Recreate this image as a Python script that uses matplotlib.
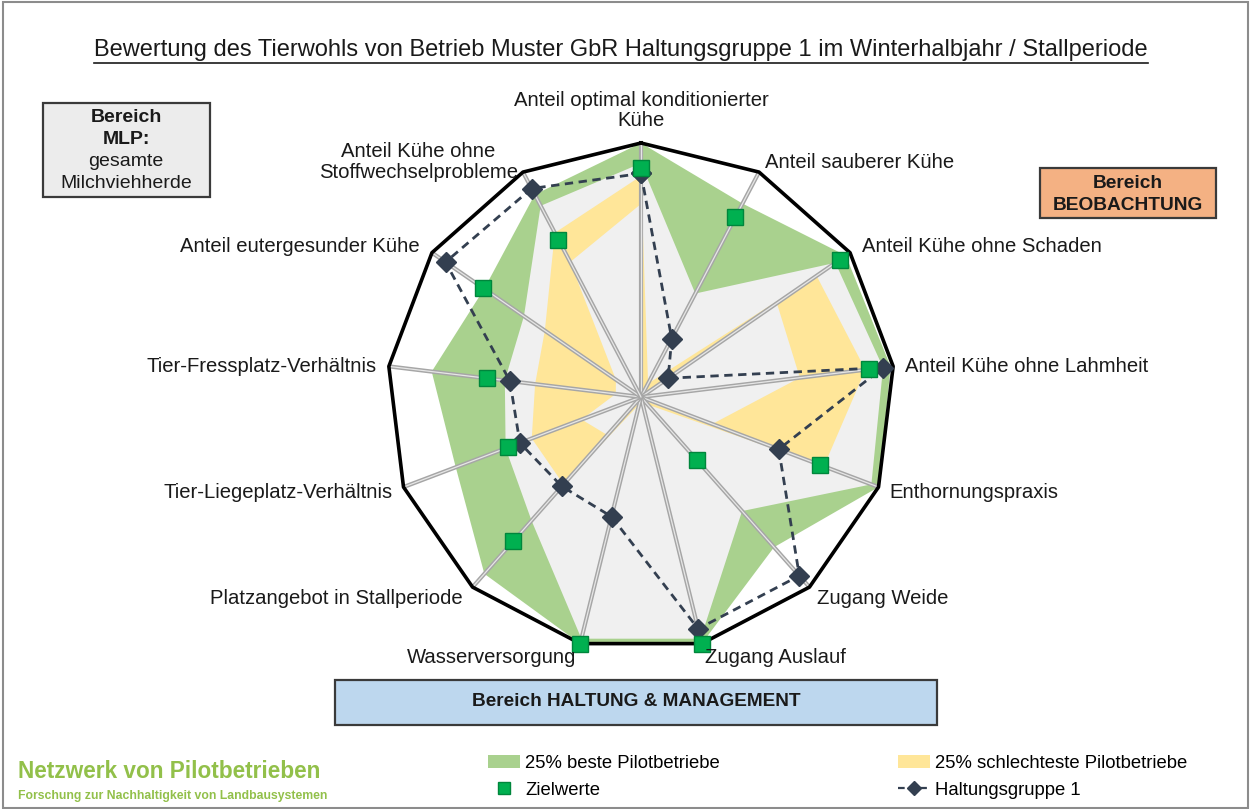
import numpy as np
import matplotlib.pyplot as plt
from matplotlib.lines import Line2D
from matplotlib.patches import Patch, Rectangle

plt.rcParams['font.family'] = ['Liberation Sans', 'DejaVu Sans']

# Kategorien im Uhrzeigersinn, beginnend oben
kategorien = [
    'Anteil optimal konditionierter\nKühe',
    'Anteil sauberer Kühe',
    'Anteil Kühe ohne Schaden',
    'Anteil Kühe ohne Lahmheit',
    'Enthornungspraxis',
    'Zugang Weide',
    'Zugang Auslauf',
    'Wasserversorgung',
    'Platzangebot in Stallperiode',
    'Tier-Liegeplatz-Verhältnis',
    'Tier-Fressplatz-Verhältnis',
    'Anteil eutergesunder Kühe',
    'Anteil Kühe ohne\nStoffwechselprobleme',
]

# Werte (0-100)
beste_max     = [100, 86, 98, 99, 100, 79, 100, 100, 93, 78, 83, 75, 90]
beste_p75     = [92, 46, 93, 96, 97, 60, 98, 98, 65, 57, 54, 56, 85]
schlecht_p25  = [87, 6, 84, 89, 77, 4, 3, 3, 46, 46, 42, 46, 73]
schlecht_min  = [76, 1, 65, 63, 30, 2, 2, 2, 20, 25, 10, 12, 60]
zielwerte     = [90, 80, 95, 90.5, 75.5, 33, 100, 100, 76, 56, 61, 75.5, 70]
haltung1      = [88, 26, 13, 96, 58, 94, 94, 48.5, 47, 51, 52, 93.5, 92.7]
rahmen        = [100] * 13

n = len(kategorien)
winkel = np.linspace(0, 2 * np.pi, n, endpoint=False)


def ring(werte):
    return np.append(winkel, winkel[0]), np.append(werte, werte[0])


W, H = 1250, 809
fig = plt.figure(figsize=(W / 100, H / 100), dpi=100)

# Polarachse: Zentrum (641, 397) px, Radius 254 px
cx, cy, R = 641, 397, 254
ax = fig.add_axes([(cx - R) / W, (H - cy - R) / H, 2 * R / W, 2 * R / H], projection='polar')
ax.set_theta_zero_location('N')
ax.set_theta_direction(-1)
ax.set_ylim(0, 100)
ax.axis('off')

# Flächen (Schichtung wie in Excel)
ax.fill(*ring(beste_max), color='#a9d18e', lw=0, zorder=1)
ax.fill(*ring(beste_p75), color='#f0f0f0', lw=0, zorder=2)
ax.fill(*ring(schlecht_p25), color='#ffe699', lw=0, zorder=3)
ax.fill(*ring(schlecht_min), color='#f0f0f0', lw=0, zorder=4)

# Speichen
for w in winkel:
    ax.plot([w, w], [0, 100], color='#a6a6a6', lw=3, zorder=5, solid_capstyle='butt')
    ax.plot([w, w], [0, 100], color='#e6e6e6', lw=0.9, zorder=5, solid_capstyle='butt')

# Außenrahmen
ax.plot(*ring(rahmen), color='black', lw=2.6, zorder=6, clip_on=False)

# Haltungsgruppe 1
ax.plot(*ring(haltung1), color='#333f50', lw=2, ls=(0, (3, 2)), marker='D', ms=10,
        mfc='#333f50', mec='#333f50', zorder=7, clip_on=False)

# Zielwerte
ax.plot(winkel, zielwerte, ls='none', marker='s', ms=11, mfc='#00b050', mec='#00863c',
        mew=1, zorder=8, clip_on=False)

# Beschriftung der Achsen
versatz = [(0, 13, 'center', 'bottom'), (6, 10, 'left', 'center'), (12, 6, 'left', 'center'),
           (12, 0, 'left', 'center'), (11, -5, 'left', 'center'), (8, -11, 'left', 'center'),
           (3, -14, 'left', 'center'), (-4, -14, 'right', 'center'), (-10, -11, 'right', 'center'),
           (-11, -5, 'right', 'center'), (-12, 0, 'right', 'center'), (-12, 6, 'right', 'center'),
           (-5, 10, 'right', 'center')]
for w, lab, (dx, dy, ha, va) in zip(winkel, kategorien, versatz):
    ax.annotate(lab, xy=(w, 100), xytext=(dx, dy), textcoords='offset pixels',
                ha=ha, va=va, multialignment='center', fontsize=14.6, color='#1a1a1a',
                linespacing=1.1, annotation_clip=False, zorder=9)


def px(x, y):
    return x / W, 1 - y / H


# Rahmen um die ganze Grafik
fig.patches.append(Rectangle((0.002, 0.001), 0.996, 0.996, transform=fig.transFigure,
                             fill=False, ec='#8c8c8c', lw=1.5))

# Titel mit Unterstreichung
titel = fig.text(*px(621, 50), 'Bewertung des Tierwohls von Betrieb Muster GbR Haltungsgruppe 1 '
                 'im Winterhalbjahr / Stallperiode', ha='center', va='center', fontsize=17,
                 color='#1a1a1a')


# Bereichs-Boxen
def box(x0, y0, x1, y1, farbe):
    fig.patches.append(Rectangle(px(x0, y1), (x1 - x0) / W, (y1 - y0) / H,
                                 transform=fig.transFigure, fc=farbe, ec='#3a3a3a', lw=1.6))


box(43, 103, 210, 197, '#ececec')
for yy, txt, fw in [(117, 'Bereich', 'bold'), (139, 'MLP:', 'bold'),
                    (162, 'gesamte', 'normal'), (184, 'Milchviehherde', 'normal')]:
    fig.text(*px(126, yy), txt, ha='center', va='center', fontsize=14, fontweight=fw,
             color='#1a1a1a')

box(1040, 168, 1216, 218, '#f4b183')
for yy, txt in [(183, 'Bereich'), (205, 'BEOBACHTUNG')]:
    fig.text(*px(1128, yy), txt, ha='center', va='center', fontsize=13.8, fontweight='bold',
             color='#1a1a1a')

box(335, 680, 937, 725, '#bdd7ee')
fig.text(*px(636, 702), 'Bereich HALTUNG & MANAGEMENT', ha='center', va='center',
         fontsize=13.7, fontweight='bold', color='#1a1a1a')

# Logo-Text
fig.text(*px(18, 772), 'Netzwerk von Pilotbetrieben', ha='left', va='center', fontsize=16.3,
         fontweight='bold', color='#92c04a')
fig.text(*px(18, 796), 'Forschung zur Nachhaltigkeit von Landbausystemen', ha='left',
         va='center', fontsize=8.8, fontweight='bold', color='#92c04a')

# Legende
handles = [Patch(fc='#a9d18e', ec='none'),
           Line2D([], [], ls='none', marker='s', ms=9, mfc='#00b050', mec='#00863c'),
           Patch(fc='#ffe699', ec='none'),
           Line2D([], [], color='#333f50', lw=1.6, ls=(0, (3, 2)), marker='D', ms=7)]
labels = ['25% beste Pilotbetriebe', 'Zielwerte', '25% schlechteste Pilotbetriebe',
          'Haltungsgruppe 1']
fig.legend(handles, labels, ncol=2, loc='upper left', bbox_to_anchor=px(471, 738),
           frameon=False, fontsize=13.3, handlelength=1.75, handletextpad=0.3,
           columnspacing=9.6, labelspacing=0.55)

# Unterstreichung des Titels
fig.canvas.draw()
bb = titel.get_window_extent()
fig.add_artist(Line2D([bb.x0 / W, bb.x1 / W], [(bb.y0 - 2) / H] * 2, color='#1a1a1a', lw=1.2))

fig.savefig('out.png', dpi=100)
